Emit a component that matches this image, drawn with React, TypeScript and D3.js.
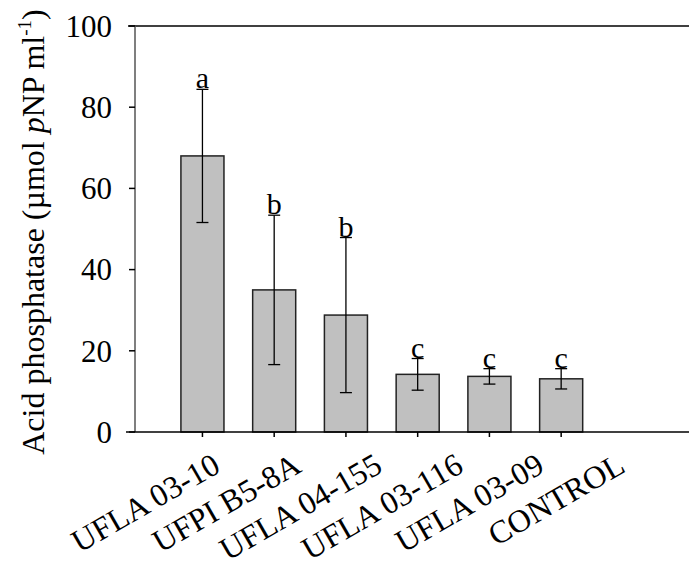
import React from "react";
import * as d3 from "d3";

const categories = ["UFLA 03-10", "UFPI B5-8A", "UFLA 04-155", "UFLA 03-116", "UFLA 03-09", "CONTROL"];
const means = [68.0, 35.0, 28.8, 14.2, 13.7, 13.1];
const sds = [16.4, 18.4, 19.1, 3.9, 1.9, 2.5];
const letters = ["a", "b", "b", "c", "c", "c"];
const yTicks = [0, 20, 40, 60, 80, 100];

const W = 689;
const H = 567;
const FONT = "'Liberation Serif', 'Times New Roman', Times, serif";

export default function App() {
  const y = d3.scaleLinear().domain([0, 100]).range([432, 26]);
  const x = d3
    .scaleBand<string>()
    .domain(categories)
    .range([135, 628.6])
    .paddingInner(0.4)
    .paddingOuter(0.64);
  const xLabel = d3.scalePoint<string>().domain(categories).range([222, 627]);
  const axisX = 135;
  const baseY = y(0);

  return (
    <svg
      width={W}
      height={H}
      style={{ position: "absolute", left: 0, top: 0, background: "#fff" }}
      fontFamily={FONT}
    >
      {/* top frame line */}
      <line x1={128} x2={W} y1={y(100)} y2={y(100)} stroke="#000" strokeWidth={1.5} />
      {/* bars */}
      {categories.map((c, i) => (
        <rect
          key={"b" + c}
          x={x(c)}
          y={y(means[i])}
          width={x.bandwidth()}
          height={baseY - y(means[i])}
          fill="#c0c0c0"
          stroke="#222"
          strokeWidth={1.5}
        />
      ))}
      {/* error bars */}
      {categories.map((c, i) => {
        const cx = (x(c) as number) + x.bandwidth() / 2;
        const top = y(means[i] + sds[i]);
        const bot = y(means[i] - sds[i]);
        return (
          <g key={"e" + c} stroke="#000" strokeWidth={1.3}>
            <line x1={cx} x2={cx} y1={top} y2={bot} />
            <line x1={cx - 6} x2={cx + 6} y1={top} y2={top} />
            <line x1={cx - 6} x2={cx + 6} y1={bot} y2={bot} />
          </g>
        );
      })}
      {/* letters */}
      {categories.map((c, i) => {
        const cx = (x(c) as number) + x.bandwidth() / 2;
        return (
          <text
            key={"l" + c}
            x={cx}
            y={y(means[i] + sds[i]) - 1}
            textAnchor="middle"
            fontSize={30}
            fill="#000"
          >
            {letters[i]}
          </text>
        );
      })}
      {/* y axis */}
      <line x1={axisX} x2={axisX} y1={y(100)} y2={baseY} stroke="#555" strokeWidth={1.5} />
      {yTicks.map((t) => (
        <g key={"t" + t}>
          <line x1={axisX - 6} x2={axisX} y1={y(t)} y2={y(t)} stroke="#000" strokeWidth={1.5} />
          <text x={112} y={y(t)} dy="0.35em" textAnchor="end" fontSize={31} fill="#000">
            {t}
          </text>
        </g>
      ))}
      {/* x axis */}
      <line x1={126} x2={W} y1={baseY} y2={baseY} stroke="#000" strokeWidth={1.5} />
      {categories.map((c, i) => {
        const cx = (x(c) as number) + x.bandwidth() / 2;
        const lx = xLabel(c) as number;
        return (
          <g key={"x" + c}>
            <line x1={cx} x2={cx} y1={baseY} y2={baseY + 5} stroke="#000" strokeWidth={1.5} />
            <text
              transform={`translate(${lx},${471}) rotate(-30)`}
              textAnchor="end"
              fontSize={32}
              fill="#000"
            >
              {c}
            </text>
          </g>
        );
      })}
      {/* y title */}
      <text
        transform={`translate(44,232) rotate(-90)`}
        textAnchor="middle"
        fontSize={32}
        fill="#000"
      >
        {"Acid phosphatase (µmol "}
        <tspan fontStyle="italic">p</tspan>
        {"NP ml"}
        <tspan fontSize={19} dy={-13}>
          -1
        </tspan>
        <tspan dy={13}>)</tspan>
      </text>
    </svg>
  );
}
